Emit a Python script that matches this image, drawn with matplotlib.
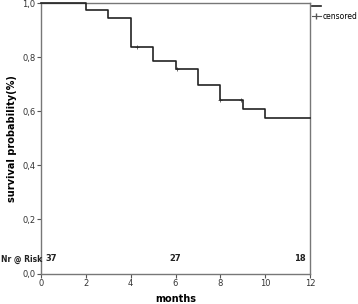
import matplotlib
matplotlib.use('Agg')
import matplotlib.pyplot as plt
from matplotlib.lines import Line2D

# step points of the survival curve (months, survival)
step_times = [0, 2, 3, 4, 5, 6, 7, 8, 9, 10, 12]
step_surv = [1.0, 0.973, 0.946, 0.838, 0.784, 0.757, 0.697, 0.641, 0.609, 0.576, 0.576]
censor_times = [4.3, 6.05, 8.0, 8.9]
censor_surv = [0.838, 0.757, 0.641, 0.641]
risk_times = [0, 6, 12]
risk_counts = ['37', '27', '18']
xticks = [0, 2, 4, 6, 8, 10, 12]
yticks = [0.0, 0.2, 0.4, 0.6, 0.8, 1.0]

fig = plt.figure(figsize=[3.58, 3.04], dpi=100)
ax = fig.add_axes([41 / 358, 1 - 273.5 / 304, (310 - 41) / 358, (273.5 - 3) / 304])

ax.step(step_times, step_surv, where='post', color='#222222', linewidth=1.2,
        clip_on=False, zorder=4)
ax.scatter(censor_times, censor_surv, marker='|', s=12, c='#555555', linewidths=0.6, zorder=3)
ax.scatter(censor_times, censor_surv, marker='_', s=12, c='#555555', linewidths=0.6, zorder=3)

ax.set_xlim(0, 12)
ax.set_ylim(0, 1.0)
ax.set_xticks(xticks)
ax.set_yticks(yticks)
ax.set_yticklabels([('%.1f' % v).replace('.', ',') for v in yticks])
ax.tick_params(labelsize=6, length=3, width=0.8, color='#555555', labelcolor='#333333', pad=1)
for s in ax.spines.values():
    s.set_color('#777777')
    s.set_linewidth(1.0)

ax.set_xlabel('months', fontsize=7, fontweight='bold', labelpad=4)
ax.set_ylabel('survival probability(%)', fontsize=7, fontweight='bold', labelpad=4)

# numbers at risk
for t, n in zip(risk_times, risk_counts):
    ha = 'left' if t == 0 else ('right' if t == 12 else 'center')
    dx = 0.2 if t == 0 else (-0.2 if t == 12 else 0)
    ax.text(t + dx, 0.055, n, fontsize=6, fontweight='bold', ha=ha, va='center', color='#222222')
fig.text(1 / 358, 1 - 259 / 304, 'Nr @ Risk', fontsize=5.5, fontweight='bold',
         ha='left', va='center', color='#222222')

# legend
h1 = Line2D([0], [0], color='#222222', linewidth=1.2, drawstyle='steps-post')
h2 = Line2D([0], [0], color='#555555', linewidth=0.8, marker='|', markersize=5)
ax.legend([h1, h2], ['', 'censored'], loc='upper left', bbox_to_anchor=(1.0, 1.01),
          frameon=False, fontsize=5.5, handlelength=1.2, handletextpad=0.2,
          borderaxespad=0.1, labelspacing=0.1, borderpad=0.1)

plt.savefig('out.png', dpi=100)
